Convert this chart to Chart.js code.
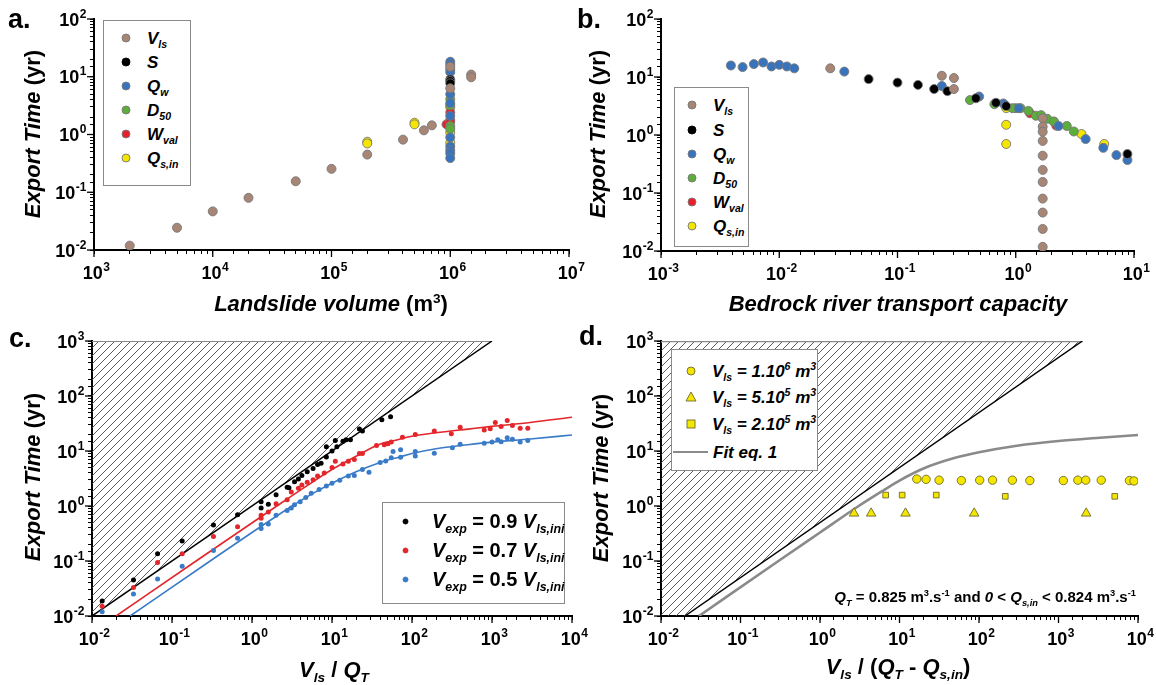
<!DOCTYPE html>
<html><head><meta charset="utf-8">
<script src="https://cdn.jsdelivr.net/npm/chart.js@4.4.1/dist/chart.umd.min.js"></script>
<style>
body{margin:0;background:#fff;font-family:"Liberation Sans",Arial,sans-serif;}
#wrap{position:relative;width:1156px;height:685px;overflow:hidden;background:#fff;}
canvas{position:absolute;}
.t{position:absolute;font-weight:bold;color:#000;white-space:nowrap;line-height:1;}
.c{transform:translate(-50%,-50%);}
.r{transform:translate(-50%,-50%) rotate(-90deg);}
.m{transform:translateY(-50%);}
sub{font-size:0.62em;vertical-align:-0.4em;line-height:0;}
sup{font-size:0.62em;vertical-align:0.62em;line-height:0;}
.lg{position:absolute;background:#fff;border:1px solid #8a8a8a;box-sizing:border-box;}
svg{position:absolute;overflow:visible;}
</style>
</head><body><div id="wrap">
<canvas id="ca" width="600" height="330" style="left:0;top:0"></canvas>
<canvas id="cb" width="576" height="330" style="left:580px;top:0"></canvas>
<canvas id="cc" width="600" height="365" style="left:0;top:320px"></canvas>
<canvas id="cd" width="576" height="365" style="left:580px;top:320px"></canvas>

<div class="t" style="left:8px;top:6px;font-size:27px">a.</div>
<div class="t" style="left:577px;top:6px;font-size:27px">b.</div>
<div class="t" style="left:9px;top:325px;font-size:27px">c.</div>
<div class="t" style="left:579px;top:323px;font-size:27px">d.</div>

<div class="t r" style="left:33px;top:134px;font-size:22px"><i>Export Time</i> (yr)</div>
<div class="t r" style="left:598px;top:134px;font-size:22px"><i>Export Time</i> (yr)</div>
<div class="t r" style="left:33px;top:477px;font-size:22px"><i>Export Time</i> (yr)</div>
<div class="t r" style="left:601px;top:478px;font-size:22px"><i>Export Time</i> (yr)</div>

<div class="t c" style="left:331px;top:304px;font-size:22px"><i>Landslide volume</i> (m<sup>3</sup>)</div>
<div class="t c" style="left:898px;top:304px;font-size:22px"><i>Bedrock river transport capacity</i></div>
<div class="t c" style="left:334px;top:670px;font-size:22px"><i>V<sub>ls</sub></i> / <i>Q<sub>T</sub></i></div>
<div class="t c" style="left:898px;top:667px;font-size:22px"><i>V<sub>ls</sub></i> / (<i>Q<sub>T</sub></i> - <i>Q<sub>s,in</sub></i>)</div>

<div class="lg" style="left:103px;top:20px;width:88px;height:166px"></div>
<div id="legA"></div>
<div class="lg" style="left:674px;top:87px;width:75px;height:160px"></div>
<div id="legB"></div>
<div class="lg" style="left:382px;top:502px;width:183px;height:102px"></div>
<div id="legC"></div>
<div class="lg" style="left:671px;top:349px;width:147px;height:122px"></div>
<div id="legD"></div>

<div class="t" style="right:20px;top:589px;font-size:15px"><i>Q<sub>T</sub></i> = 0.825 m<sup>3</sup>.s<sup>-1</sup> and <i>0</i> &lt; <i>Q<sub>s,in</sub></i> &lt; 0.824 m<sup>3</sup>.s<sup>-1</sup></div>
</div>
<script>
// ---------- DATA ----------
// Panel a: Landslide volume (m3) vs export time (yr)
const aVls  = [[2e3,0.0119],[5e3,0.0243],[1e4,0.0466],[2e4,0.080],[5e4,0.155],[1e5,0.254],[2e5,0.449],[4e5,0.815],[6e5,1.18],[7e5,1.44],[1e6,14.9],[1e6,6.3],[1.5e6,10.9],[1.5e6,9.8]];
const aS    = [[1e6,9.0],[1e6,8.4],[1e6,7.7]];
const aQw   = [[1e6,18.2],[1e6,16.5],[1e6,13.4],[1e6,12.0],[1e6,5.0],[1e6,3.5],[1e6,2.1],[1e6,0.89],[1e6,0.62],[1e6,0.53],[1e6,0.47],[1e6,0.39]];
const aD50  = [[1e6,4.1],[1e6,3.2],[1e6,1.4],[1e6,1.25]];
const aWval = [[9.3e5,1.5],[1e6,2.4],[1e6,1.78],[1e6,1.65]];
const aQsin = [[2e5,0.75],[2e5,0.7],[5e5,1.6],[5e5,1.5],[1e6,2.95],[1e6,1.08],[1e6,0.72]];

// Panel b: bedrock river transport capacity vs export time
const bVls  = [[0.027,14.1],[0.237,10.5],[0.30,9.6],[0.30,6.2],[1.69,1.94],[1.69,1.39],[1.69,1.14],[1.69,0.79],[1.69,0.44],[1.69,0.25],[1.69,0.155],[1.69,0.08],[1.69,0.046],[1.69,0.024],[1.69,0.0118]];
const bS    = [[0.057,9.2],[0.1,8.0],[0.149,7.3],[0.204,6.2],[0.264,5.7],[0.46,4.3],[0.68,3.6],[0.83,3.15],[8.8,0.47]];
const bQw   = [[0.0039,15.8],[0.0049,14.8],[0.0061,16.7],[0.0073,17.8],[0.0086,15.2],[0.010,16.2],[0.0116,15.2],[0.0134,14.1],[0.0355,12.4],[0.237,7.0],[0.49,4.6],[0.785,3.5],[1.06,2.9],[2.3,1.43],[3.9,0.85],[5.5,0.6],[7.1,0.45],[8.8,0.37]];
const bD50  = [[0.41,4.0],[0.66,3.4],[0.94,2.9],[1.1,2.9],[1.28,2.6],[1.48,2.15],[1.64,2.2],[1.85,1.9],[2.1,1.7],[2.7,1.43],[3.1,1.15]];
const bWval = [[1.0,2.9],[1.32,2.37],[2.1,1.7],[2.2,1.45]];
const bQsin = [[0.83,2.9],[0.83,1.5],[0.83,0.7],[3.6,1.04],[5.6,0.7]];

// Panel c: Vls/QT vs export time
const cV09 = [[0.0134,0.0187],[0.033,0.045],[0.066,0.135],[0.134,0.23],[0.33,0.45],[0.66,0.69],[1.3,1.2],[1.3,0.92],[1.6,1.08],[2.0,1.6],[2.75,2.2],[2.9,2.15],[3.4,2.75],[3.8,3.1],[4.2,3.6],[4.9,4.2],[5.8,4.8],[6.6,5.7],[7.3,6.0],[8.5,12.0],[8.5,7.8],[10,10],[11,15.5],[11.5,12.0],[13.7,15],[15,16],[17,16],[22,25],[24,23],[42,37],[54,42]];
const cV07 = [[0.0134,0.015],[0.033,0.033],[0.066,0.094],[0.134,0.135],[0.33,0.28],[0.66,0.42],[1.3,0.68],[1.3,0.6],[1.6,0.78],[2.0,1.1],[2.75,1.3],[3.1,1.8],[3.8,2.1],[4.2,2.4],[4.9,2.7],[5.8,3.0],[6.6,3.5],[8,4.0],[10,5.0],[11,6.5],[13.7,5.8],[16,6.5],[19,7.0],[22,9.0],[24,9.0],[36,12.6],[45,13],[50,13.5],[55,14.5],[76,17.8],[110,20],[190,23],[310,20.5],[400,27],[800,24],[950,25.5],[1100,33],[1300,28],[1550,36],[1800,29],[2250,26],[2800,26]];
const cV05 = [[0.0134,0.012],[0.033,0.025],[0.066,0.047],[0.134,0.08],[0.33,0.155],[0.66,0.26],[1.3,0.39],[1.3,0.46],[1.6,0.47],[2.0,0.68],[2.75,0.83],[3.1,0.92],[3.4,1.05],[4.0,1.2],[4.7,1.43],[5.5,1.7],[6.9,2.0],[8.5,2.3],[10,2.6],[12.5,2.95],[16,3.5],[19,3.6],[24,4.6],[29,4.1],[40,6.2],[47,6.6],[55,7.5],[58,9.8],[72,10.5],[72,7.7],[110,8.1],[110,9.8],[190,9.1],[320,11.5],[400,13.2],[800,13.8],[1000,14.5],[1180,16],[1300,14.8],[1550,17.5],[1800,16.3],[2250,14.6],[2800,15.5]];
const cLine1 = [[0.01,0.01],[1000,1000]];
const cLine07 = [[0.02,0.01],[0.2,0.1],[2,0.98],[5,2.4],[10,4.6],[20,8],[38,13],[60,15.5],[100,18.5],[200,21.5],[500,25],[1000,28],[3000,33],[10000,41]];
const cLine05 = [[0.03,0.01],[0.3,0.1],[1,0.33],[3,0.95],[6,1.75],[10,2.6],[20,4.2],[40,6.2],[70,7.8],[100,9],[200,11],[500,13],[1000,14.5],[3000,16.5],[10000,19.5]];

// Panel d: Vls/(QT-Qs,in) vs export time
const dV1e6 = [[16.5,3.1],[21.6,3.05],[31.5,2.95],[60,2.9],[102,2.95],[148,2.95],[263,2.95],[436,2.9],[1150,2.9],[1750,2.95],[2200,2.95],[3450,2.95],[7800,2.9],[8900,2.85]];
const dV5e5 = [[2.68,0.735],[4.4,0.735],[11.9,0.735],[87,0.735],[2230,0.735]];
const dV2e5 = [[6.7,1.58],[10.8,1.58],[29,1.58],[214,1.5],[5100,1.5]];
const dLine1 = [[0.02,0.01],[2000,1000]];
const dHatch = [[0.01,0.01],[0.02,0.01],[2000,1000]];
const dFit = [[0.03,0.01],[0.3,0.1],[1,0.33],[3,0.98],[6,1.85],[10,2.9],[20,4.8],[50,7.5],[100,9.5],[300,12.5],[1000,15.2],[3000,17.2],[10000,19.5]];

// ---------- STYLE ----------
const FONT = '"Liberation Sans", Arial, sans-serif';
const COL = {brown:'#a88676', black:'#000000', blue:'#3874be', green:'#5cad3c', red:'#e8202a', yellow:'#f4e600'};
const pts = arr => arr.map(p => ({x:p[0], y:p[1]}));
const isDecade = v => { const l = Math.log10(v); return Math.abs(l - Math.round(l)) < 1e-6; };

function axis(min, max, isX, fit){
  return {
    type:'logarithmic', min, max, position: isX ? 'bottom' : 'left',
    border:{display:true, color:'#000', width:2},
    grid:{display:true, drawOnChartArea:false, drawTicks:true, tickLength:4, tickColor:'#000', tickWidth:1},
    ticks:{autoSkip:false, maxRotation:0, minRotation:0, callback: () => ''},
    afterFit: s => { if (isX) s.height = fit; else s.width = fit; }
  };
}
// longer major ticks + "10^n" labels with a real superscript, placed by the scales
const decadeAxes = {
  id:'decadeAxes',
  afterDraw(chart){
    const ctx = chart.ctx; ctx.save(); ctx.strokeStyle = '#000'; ctx.fillStyle = '#000'; ctx.lineWidth = 1.3;
    ['x','y'].forEach(id => {
      const s = chart.scales[id];
      s.ticks.forEach(t => {
        if (!isDecade(t.value)) return;
        const e = String(Math.round(Math.log10(t.value)));
        const p = s.getPixelForValue(t.value);
        ctx.beginPath();
        if (id === 'x') { ctx.moveTo(p, s.top); ctx.lineTo(p, s.top + 7); }
        else { ctx.moveTo(s.right, p); ctx.lineTo(s.right - 7, p); }
        ctx.stroke();
        ctx.textBaseline = 'alphabetic'; ctx.textAlign = 'left';
        ctx.font = 'bold 18px ' + FONT; const w1 = ctx.measureText('10').width;
        ctx.font = 'bold 12px ' + FONT; const w2 = ctx.measureText(e).width;
        let x0, base;
        if (id === 'x') { x0 = p - (w1 + w2) / 2 + 2; base = s.top + 29; }
        else { x0 = s.right - 8 - w1 - w2; base = p + 6.5; }
        ctx.font = 'bold 18px ' + FONT; ctx.fillText('10', x0, base);
        ctx.font = 'bold 12px ' + FONT; ctx.fillText(e, x0 + w1 + 0.5, base - 8);
      });
    });
    ctx.restore();
  }
};
function hatch(){
  const g = 8, c = document.createElement('canvas'); c.width = g; c.height = g;
  const x = c.getContext('2d'); x.strokeStyle = '#4a4a4a'; x.lineWidth = 0.9;
  x.beginPath(); x.moveTo(0, g); x.lineTo(g, 0); x.moveTo(-1, 1); x.lineTo(1, -1); x.moveTo(g - 1, g + 1); x.lineTo(g + 1, g - 1); x.stroke();
  return x.createPattern(c, 'repeat');
}
function dots(arr, color, r, border, style){
  return {data: pts(arr), showLine:false, pointRadius:r, pointBackgroundColor:color,
    pointBorderColor: border || color, pointBorderWidth: border ? 0.9 : 0, pointStyle: style || 'circle', order:0};
}
function line(arr, color, w, extra){
  return Object.assign({data: pts(arr), showLine:true, pointRadius:0, borderColor:color, borderWidth:w, fill:false, order:1}, extra || {});
}
function make(id, datasets, xr, yr, pad, yFit, xFit){
  new Chart(document.getElementById(id), {
    type:'line',
    data:{datasets},
    options:{
      responsive:false, animation:false, events:[], devicePixelRatio:1,
      layout:{padding:pad},
      plugins:{legend:{display:false}, tooltip:{enabled:false}},
      scales:{x: axis(xr[0], xr[1], true, xFit), y: axis(yr[0], yr[1], false, yFit)}
    },
    plugins:[decadeAxes]
  });
}

const BR = '#777';
make('ca', [
  dots(aVls, COL.brown, 4.5, BR), dots(aS, COL.black, 4.5, BR), dots(aQw, COL.blue, 4.5, BR),
  dots(aD50, COL.green, 4.5, BR), dots(aWval, COL.red, 4.5, BR), dots(aQsin, COL.yellow, 4.5, BR)
], [1e3,1e7], [1e-2,1e2], {left:0, top:19, right:31, bottom:0}, 94, 80);

make('cb', [
  dots(bVls, COL.brown, 4.5, BR), dots(bS, COL.black, 4.5, BR), dots(bQw, COL.blue, 4.5, BR),
  dots(bD50, COL.green, 4.5, BR), dots(bWval, COL.red, 4.5, BR), dots(bQsin, COL.yellow, 4.5, BR)
], [1e-3,1e1], [1e-2,1e2], {left:0, top:19, right:22, bottom:0}, 81, 79);

const HP = hatch();
make('cc', [
  dots(cV09, '#000', 2.5), dots(cV07, '#e2262b', 2.5), dots(cV05, '#3a7bc8', 2.5),
  line(cLine1, '#000', 1.5),
  line(cLine07, '#e2262b', 1.6, {cubicInterpolationMode:'monotone'}),
  line(cLine05, '#3a7bc8', 1.6, {cubicInterpolationMode:'monotone'}),
  line(cLine1, 'rgba(0,0,0,0)', 0, {fill:'end', backgroundColor:HP, order:3}),
  line([[0.01,1000],[1000,1000]], '#8a8a8a', 2, {order:2})
], [1e-2,1e4], [1e-2,1e3], {left:0, top:21, right:28, bottom:0}, 92, 69);

const DB = '#6f6a2a';
make('cd', [
  dots(dV1e6, COL.yellow, 4.2, DB, 'circle'),
  dots(dV5e5, COL.yellow, 5.5, DB, 'triangle'),
  dots(dV2e5, COL.yellow, 4, DB, 'rect'),
  line(dLine1, '#000', 1.5),
  line(dFit, '#8a8a8a', 2.6, {cubicInterpolationMode:'monotone'}),
  line(dHatch, 'rgba(0,0,0,0)', 0, {fill:'end', backgroundColor:HP, order:3}),
  line([[0.01,1000],[2000,1000]], '#8a8a8a', 2.5, {order:2})
], [1e-2,1e4], [1e-2,1e3], {left:0, top:21, right:18, bottom:0}, 81, 69);

// ---------- LEGENDS (HTML, with sub/superscripts) ----------
function marker(shape, color, border, cx, cy, r){
  let s;
  if (shape === 'circle') s = `<circle cx="${r+1}" cy="${r+1}" r="${r}" fill="${color}" stroke="${border}" stroke-width="0.9"/>`;
  else if (shape === 'triangle') s = `<polygon points="${r+1},1 ${2*r+1},${2*r} 1,${2*r}" fill="${color}" stroke="${border}" stroke-width="0.9"/>`;
  else s = `<rect x="1" y="1" width="${2*r}" height="${2*r}" fill="${color}" stroke="${border}" stroke-width="0.9"/>`;
  return `<svg width="${2*r+2}" height="${2*r+2}" style="left:${cx-r-1}px;top:${cy-r-1}px">${s}</svg>`;
}
function txt(x, y, size, html){ return `<div class="t m" style="left:${x}px;top:${y}px;font-size:${size}px">${html}</div>`; }
const legLabels6 = ['<i>V<sub>ls</sub></i>','<i>S</i>','<i>Q<sub>w</sub></i>','<i>D<sub>50</sub></i>','<i>W<sub>val</sub></i>','<i>Q<sub>s,in</sub></i>'];
const legColors6 = [COL.brown, COL.black, COL.blue, COL.green, COL.red, COL.yellow];
let h = '';
const rowsA = [38, 62, 86, 110, 134, 158];
rowsA.forEach((y,i) => { h += marker('circle', legColors6[i], i===1 ? '#000' : BR, 126, y, 4) + txt(147, y, 17, legLabels6[i]); });
document.getElementById('legA').innerHTML = h;
h = '';
const rowsB = [105, 130, 154, 178, 202, 226];
rowsB.forEach((y,i) => { h += marker('circle', legColors6[i], i===1 ? '#000' : BR, 692, y, 4) + txt(713, y, 17, legLabels6[i]); });
document.getElementById('legB').innerHTML = h;
h = '';
const legC = [['#000','0.9'],['#e2262b','0.7'],['#3a7bc8','0.5']];
const rowsC = [521, 550, 579];
rowsC.forEach((y,i) => { h += marker('circle', legC[i][0], legC[i][0], 405, y, 2.5) + txt(432, y, 20, `<i>V<sub>exp</sub></i> = ${legC[i][1]} <i>V<sub>ls,ini</sub></i>`); });
document.getElementById('legC').innerHTML = h;
h = '';
const rowsD = [371, 397, 424, 452];
h += marker('circle', COL.yellow, DB, 691, rowsD[0], 4) + txt(712, rowsD[0], 17, '<i>V<sub>ls</sub> = 1.10<sup>6</sup> m<sup>3</sup></i>');
h += marker('triangle', COL.yellow, DB, 691, rowsD[1], 5) + txt(712, rowsD[1], 17, '<i>V<sub>ls</sub> = 5.10<sup>5</sup> m<sup>3</sup></i>');
h += marker('rect', COL.yellow, DB, 691, rowsD[2], 4) + txt(712, rowsD[2], 17, '<i>V<sub>ls</sub> = 2.10<sup>5</sup> m<sup>3</sup></i>');
h += `<div style="position:absolute;left:673px;top:${rowsD[3]-1.3}px;width:35px;height:2.6px;background:#8a8a8a"></div>` + txt(713, rowsD[3], 17, '<i>Fit eq. 1</i>');
document.getElementById('legD').innerHTML = h;
</script>
</body></html>
